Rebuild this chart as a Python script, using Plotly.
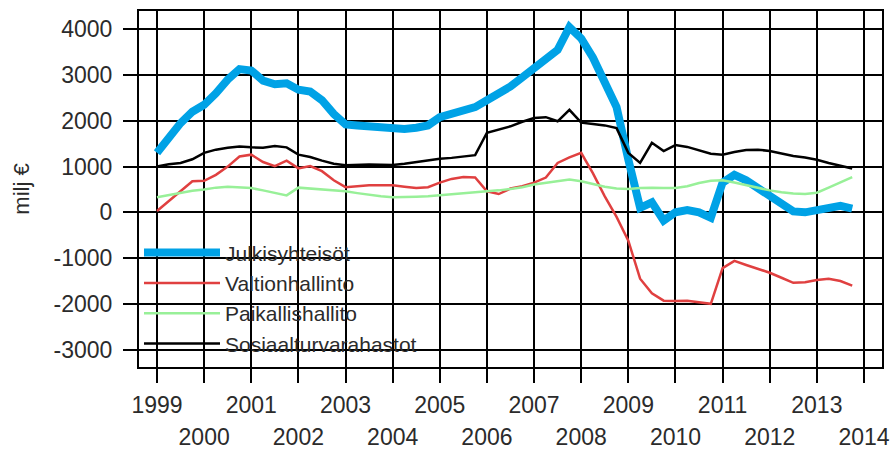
import plotly.graph_objects as go

# ---- data (quarterly, 1999Q1 .. 2013Q4) ----
years = list(range(1999, 2014))
quarters = [y + q / 4 for y in years for q in range(4)]

julkisyhteisot = [
    1300, 1650, 1950, 2200,
    2350, 2600, 2900, 3130,
    3100, 2880, 2800, 2820,
    2680, 2640, 2450, 2150,
    1920, 1900, 1880, 1850,
    1810, 1820, 1850, 1900,
    2080, 2150, 2250, 2300,
    2450, 2580, 2750, 2950,
    3150, 3320, 3550, 4050,
    3800, 3380, 2880, 2300,
    1150, 100, 220, -180,
    0, 50, 0, -120,
    650, 820, 700, 530,
    360, 180, 20, 0,
    40, 100, 140, 80,
]
valtionhallinto = [
    30, 250, 450, 680,
    690, 820, 1000, 1220,
    1260, 1100, 1010, 1130,
    960, 1010, 900, 700,
    550, 570, 590, 590,
    590, 560, 530, 550,
    650, 730, 770, 760,
    460, 400, 520, 570,
    650, 760, 1080, 1200,
    1300, 850, 350, -100,
    -620, -1450, -1770, -1930,
    -1940, -1930, -1970, -2000,
    -1220, -1060, -1150, -1230,
    -1320, -1430, -1540, -1530,
    -1480, -1450, -1500, -1600,
]
paikallishallinto = [
    330, 380, 430, 470,
    500, 540, 560, 550,
    530, 480, 420, 370,
    540, 520, 500, 480,
    460, 420, 380, 350,
    330, 330, 340, 350,
    370, 390, 410, 430,
    460, 480, 510, 550,
    610, 650, 690, 720,
    680, 620, 560, 520,
    510, 530, 540, 530,
    530, 570, 640, 690,
    700, 650, 590, 530,
    480, 440, 410, 400,
    430, 540, 660, 770,
]
sosiaaliturvarahastot = [
    1000, 1050, 1080, 1160,
    1300, 1370, 1410, 1440,
    1420, 1410, 1450, 1420,
    1260, 1210, 1130, 1060,
    1030, 1040, 1045, 1040,
    1035, 1060, 1100, 1130,
    1170, 1190, 1220, 1250,
    1740, 1810, 1880, 1980,
    2060, 2080, 1990, 2240,
    1960, 1930, 1900, 1840,
    1300, 1080, 1520, 1340,
    1470, 1430, 1360, 1280,
    1260, 1320, 1360, 1370,
    1340, 1280, 1230, 1200,
    1150, 1080, 1020, 960,
]

series_names = ["Julkisyhteisöt", "Valtionhallinto", "Paikallishallito", "Sosiaalturvarahastot"]
x_tick_years = list(range(1999, 2015))
y_tick_vals = [-3000, -2000, -1000, 0, 1000, 2000, 3000, 4000]
y_tick_text = [str(v) for v in y_tick_vals]
y_title = "milj €"

FONT = "Liberation Sans, Arial, sans-serif"
TXT = "#2b2b2b"

fig = go.Figure()
styles = [
    (julkisyhteisot, "#00a2e6", 8),
    (valtionhallinto, "#e04040", 2.5),
    (paikallishallinto, "#98f098", 2.5),
    (sosiaaliturvarahastot, "#000000", 2.5),
]
for name, (vals, col, w) in zip(series_names, styles):
    fig.add_trace(go.Scatter(
        x=quarters, y=vals, mode="lines", name=name, legendgroup=name,
        line=dict(color=col, width=w), hoverinfo="skip",
    ))

# second x axis carries the even-year labels on a lower row
fig.add_trace(go.Scatter(x=[x_tick_years[0]], y=[0], xaxis="x2", mode="markers",
                         marker=dict(opacity=0), showlegend=False, hoverinfo="skip"))

xr = [1998.618, 2014.382]
fig.update_layout(
    width=893, height=454,
    margin=dict(l=139, r=11, t=11, b=87, autoexpand=False),
    paper_bgcolor="white", plot_bgcolor="white",
    font=dict(family=FONT, size=23, color=TXT),
    showlegend=True,
    legend=dict(
        x=0.0, xanchor="left", y=0.378, yanchor="top",
        bgcolor="rgba(0,0,0,0)", borderwidth=0,
        font=dict(family=FONT, size=21, color=TXT),
        itemwidth=76, tracegroupgap=11, traceorder="normal",
    ),
    xaxis=dict(
        range=xr, tickmode="array", tickvals=x_tick_years,
        ticktext=[str(y) if y % 2 == 1 else "" for y in x_tick_years],
        showgrid=True, gridcolor="black", gridwidth=2,
        ticks="outside", ticklen=14, tickwidth=2, tickcolor="black",
        showline=True, linecolor="black", linewidth=2, mirror=True,
        zeroline=False, tickfont=dict(size=23), ticklabelstandoff=2,
        automargin=False,
    ),
    xaxis2=dict(
        range=xr, overlaying="x", anchor="y", side="bottom",
        tickmode="array", tickvals=[y for y in x_tick_years if y % 2 == 0],
        ticktext=[str(y) for y in x_tick_years if y % 2 == 0],
        showgrid=False, ticks="", showline=False, zeroline=False,
        ticklabelstandoff=54, tickfont=dict(size=23), automargin=False,
    ),
    yaxis=dict(
        range=[-3380, 4400], tickmode="array", tickvals=y_tick_vals, ticktext=y_tick_text,
        showgrid=True, gridcolor="black", gridwidth=2,
        ticks="outside", ticklen=14, tickwidth=2, tickcolor="black",
        showline=True, linecolor="black", linewidth=2, mirror=True,
        zeroline=False, tickfont=dict(size=23), ticklabelstandoff=6,
        title=dict(text=y_title, font=dict(size=22), standoff=18),
        automargin=False,
    ),
)

fig.write_html("out.html", config={"displayModeBar": False},
               post_script="document.body.style.margin='0';")
